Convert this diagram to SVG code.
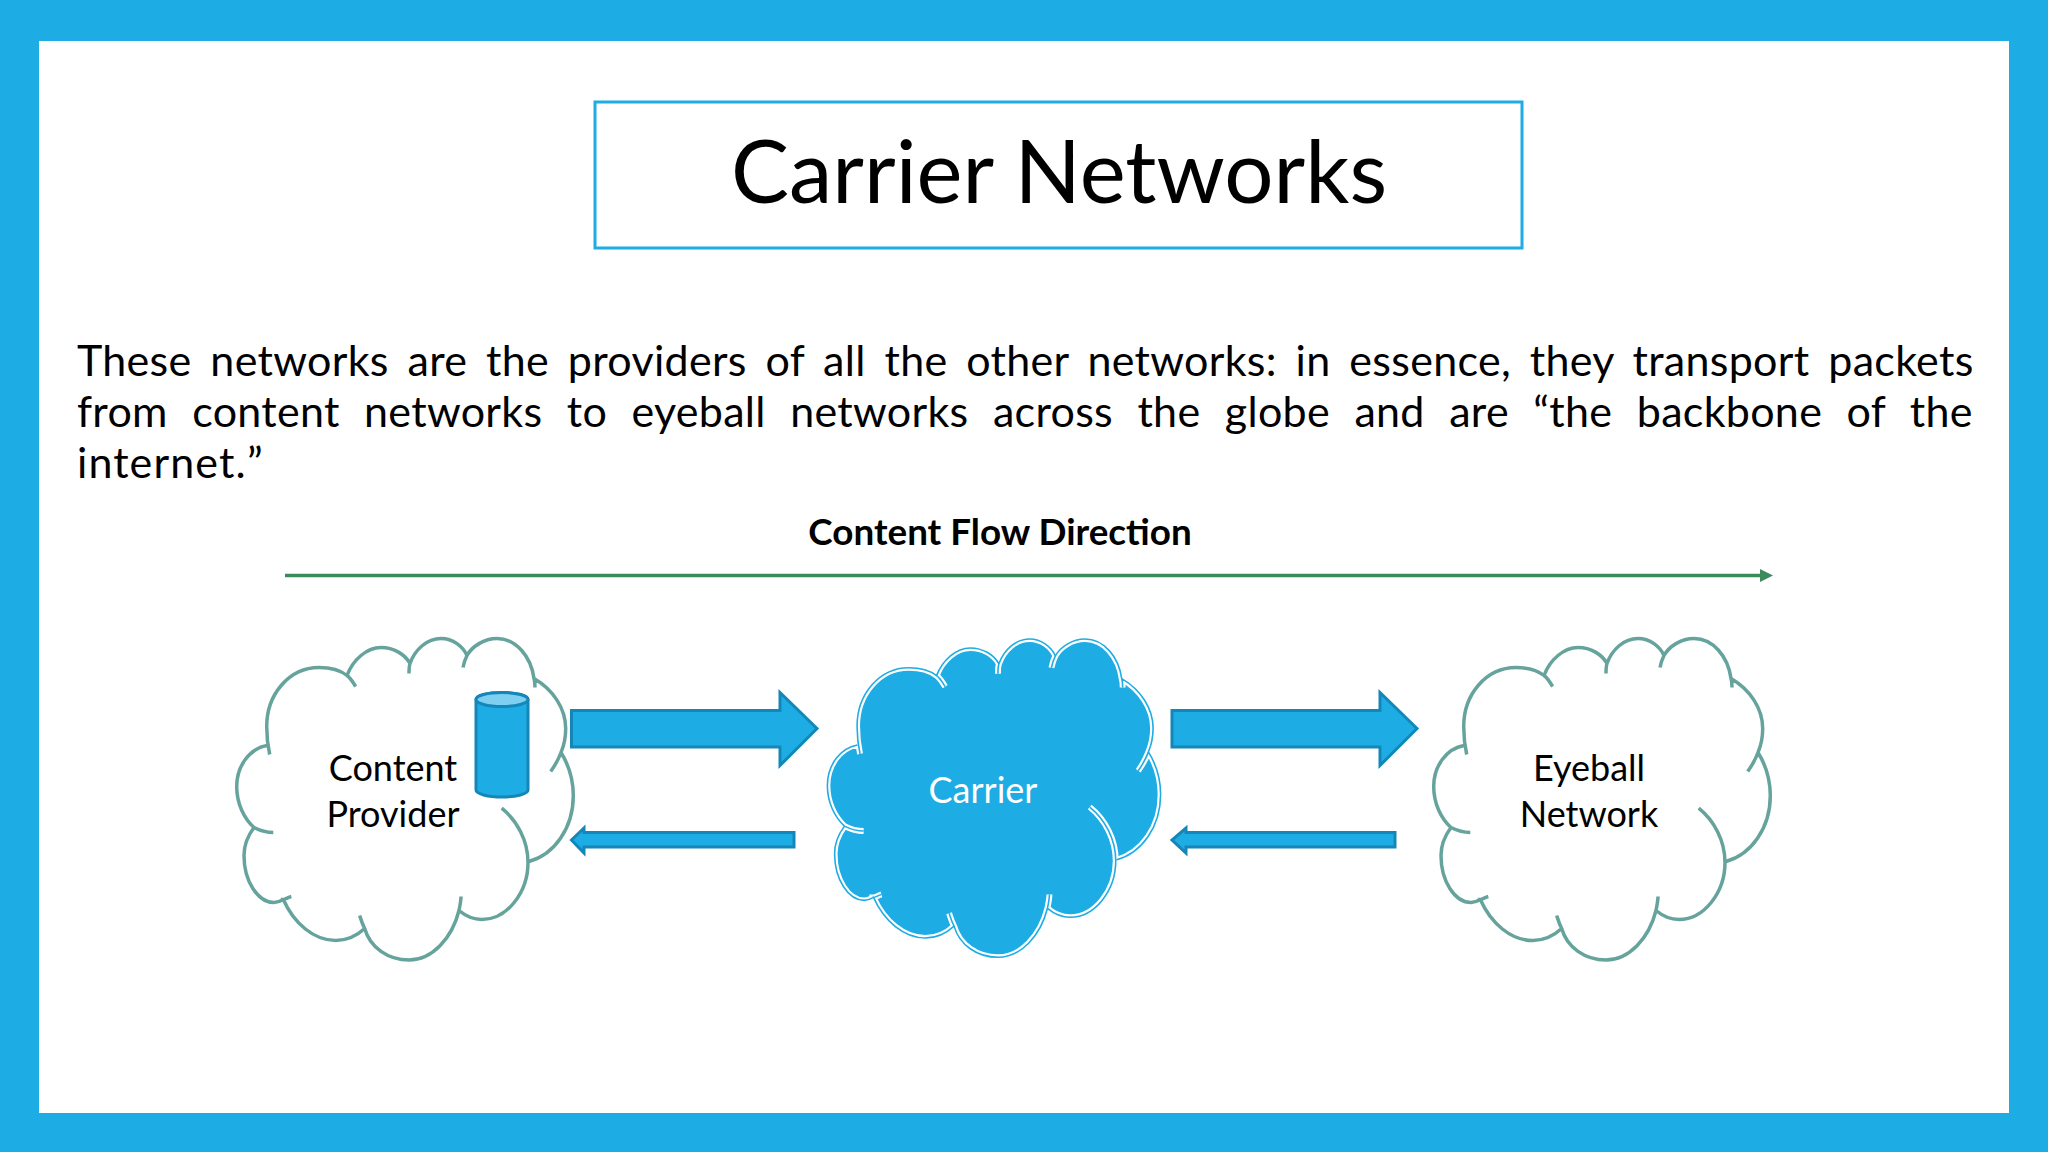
<svg xmlns="http://www.w3.org/2000/svg" width="2048" height="1152" viewBox="0 0 2048 1152">
<style>
text{font-family:"Lato","Open Sans",sans-serif;fill:#000}
.body{font-size:43px;letter-spacing:.3px}
.lbl{font-size:36px;text-anchor:middle}
.cl{fill:none;stroke:#66a39d;stroke-width:3.5}
.arr{fill:#1eace5;stroke:#1487b8;stroke-width:3}
</style>
<defs>
<path id="cloudFill" d="M1463 745C1462.700 735 1462.700 730 1462.700 726C1462.700 694 1485 667 1515 667C1528 667 1538 671 1543 675C1549 659 1563 647 1577 647C1590 647 1601 654 1606 663C1611 649 1623 638 1637 638C1649 638 1659 646 1663 655C1668 646 1680 638 1693 638C1712 638 1727 656 1730 678C1749 689 1761.700 708 1761.700 728C1761.700 736 1760 745 1757 752C1765 765 1769.300 780 1769.300 795C1769.300 828 1750 854 1724 861C1724 892 1703 919 1678 919C1669 919 1661 915 1655 910C1648 938 1628 959.500 1605 959.500C1584 959.500 1566 947 1560.700 928C1552 936 1542 940 1531.700 940C1510 940 1490 923 1479.300 899C1476 901 1473 902 1470 902C1454 902 1440 881 1440 855C1440 845 1444 835 1450 827C1440 818 1432.700 803 1432.700 786C1432.700 765 1446 748 1463 745Z"/>
<path id="cloudLine" fill="none" d="M1465.700 754C1463 742 1462.700 735 1462.700 726C1462.700 694 1485 667 1515 667C1528 667 1538 671 1543 675C1547 678 1549 682 1551.700 686M1543 675C1549 659 1563 647 1577 647C1590 647 1601 654 1606 663C1605 666 1605 669 1605 673M1606 663C1611 649 1623 638 1637 638C1649 638 1659 646 1663 655C1661 659 1660 662 1659 667M1663 655C1668 646 1680 638 1693 638C1712 638 1727 656 1730 678C1731 681 1731 684 1731 687M1730 678C1749 689 1761.700 708 1761.700 728C1761.700 736 1760 745 1757 752C1754 760 1751 765 1746.700 771M1757 752C1765 765 1769.300 780 1769.300 795C1769.300 828 1750 854 1725 861M1697.700 807.700C1713 820 1724 840 1724 862C1724 892 1703 919 1678 919C1669 919 1661 915 1655 910C1656 905 1657 900 1657 896M1655 910C1648 938 1628 959.500 1605 959.500C1584 959.500 1566 947 1560.700 928C1558 923 1557 919 1555.700 915M1560.700 928C1552 936 1542 940 1531.700 940C1510 940 1490 923 1479.300 899C1481 899 1484 897 1487.300 896M1479.300 899C1476 901 1473 902 1470 902C1454 902 1440 881 1440 855C1440 845 1444 835 1450 827C1456 830 1462 832 1469.300 832M1450 827C1440 818 1432.700 803 1432.700 786C1432.700 765 1446 748 1463 745"/>
</defs>
<rect width="2048" height="1152" fill="#1eace5"/>
<rect x="39" y="41" width="1970" height="1072" fill="#fff"/>
<g id="title">
<rect x="595" y="102" width="927" height="146" fill="#fff" stroke="#1eace5" stroke-width="3"/>
<text x="1059" y="203" font-size="87" text-anchor="middle">Carrier Networks</text>
</g>
<g id="body-text">
<text class="body" x="77" y="376" word-spacing="7.500">These networks are the providers of all the other networks: in essence, they transport packets</text>
<text class="body" x="77" y="427" word-spacing="13.100">from content networks to eyeball networks across the globe and are “the backbone of the</text>
<text class="body" x="77" y="478" style="letter-spacing:1.100px">internet.<tspan dx="5">”</tspan></text>
</g>
<g id="flow-label"><text x="1000" y="545" font-size="36.800" font-weight="700" text-anchor="middle">Content Flow Direction</text></g>
<g id="connectors">
<path d="M285 575.500H1762" stroke="#3f8a5c" stroke-width="3.500" fill="none"/>
<path d="M1773 575.500l-13 -6.500v13z" fill="#3f8a5c"/>
<path class="arr" d="M571.500 710.500H780V692.500L817 728.500L780 765.500V747H571.500Z"/>
<path class="arr" d="M794 832.500H584V828L571.500 840L584 853V847H794Z"/>
<path class="arr" d="M1172 710.500H1380V692.500L1417 728.500L1380 765.500V747H1172Z"/>
<path class="arr" d="M1395 832.500H1186V828L1172 840L1186 853V847H1395Z"/>
</g>
<g id="content-provider">
<use href="#cloudLine" class="cl" transform="translate(-1196 0.500)"/>
<path d="M476 699.500V790A26 7 0 0 0 528 790V699.500A26 7 0 0 0 476 699.500Z" fill="#1eace5" stroke="#1487b8" stroke-width="3"/>
<ellipse cx="502" cy="699.500" rx="26" ry="7" fill="#7fd0f0" stroke="#1487b8" stroke-width="3"/>
<text class="lbl" x="393" y="781">Content</text>
<text class="lbl" x="393" y="827">Provider</text>
</g>
<g id="carrier" transform="translate(-591 7.400) scale(.99)">
<use href="#cloudFill" fill="#1eace5"/>
<use href="#cloudLine" stroke="#fff" stroke-width="6"/>
<use href="#cloudLine" stroke="#1eace5" stroke-width="1.600"/>
</g>
<g id="carrier-label"><text class="lbl" x="983" y="803" style="fill:#fff">Carrier</text></g>
<g id="eyeball-network">
<use href="#cloudLine" class="cl" transform="translate(1 0.500)"/>
<text class="lbl" x="1589" y="781">Eyeball</text>
<text class="lbl" x="1589" y="827">Network</text>
</g>
</svg>
